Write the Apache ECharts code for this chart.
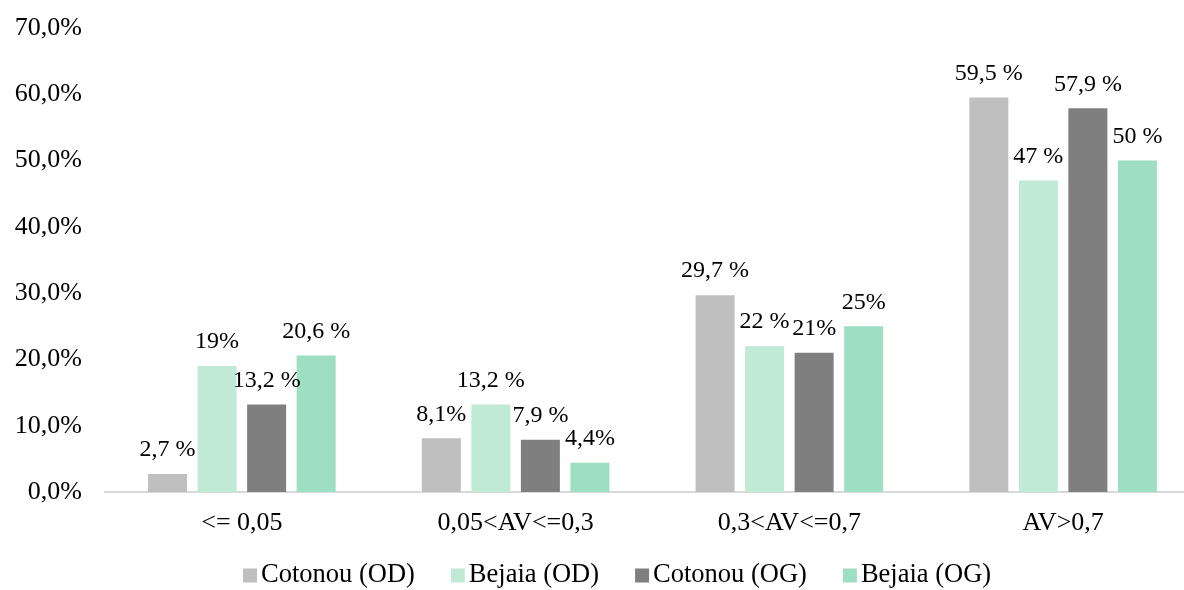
<!DOCTYPE html>
<html>
<head>
<meta charset="utf-8">
<script src="https://cdn.jsdelivr.net/npm/echarts@6/dist/echarts.min.js"></script>
<style>
html,body{margin:0;padding:0;background:#fff;}
#chart{width:1184px;height:590px;}
</style>
</head>
<body>
<div id="chart"></div>
<script>
const categories = ['<= 0,05', '0,05<AV<=0,3', '0,3<AV<=0,7', 'AV>0,7'];
const seriesNames = ['Cotonou (OD)', 'Bejaia (OD)', 'Cotonou (OG)', 'Bejaia (OG)'];
const cotonouOD = [2.7, 8.1, 29.7, 59.5];
const bejaiaOD = [19, 13.2, 22, 47];
const cotonouOG = [13.2, 7.9, 21, 57.9];
const bejaiaOG = [20.6, 4.4, 25, 50];
const labelsCotonouOD = ['2,7 %', '8,1%', '29,7 %', '59,5 %'];
const labelsBejaiaOD = ['19%', '13,2 %', '22 %', '47 %'];
const labelsCotonouOG = ['13,2 %', '7,9 %', '21%', '57,9 %'];
const labelsBejaiaOG = ['20,6 %', '4,4%', '25%', '50 %'];
const yTicks = [0, 10, 20, 30, 40, 50, 60, 70];

const colors = ['#BFBFBF', '#C0E9D6', '#7F7F7F', '#9EDEC2'];
const FONT = '"Liberation Serif", "Times New Roman", serif';
const allValues = [cotonouOD, bejaiaOD, cotonouOG, bejaiaOG];
const allLabels = [labelsCotonouOD, labelsBejaiaOD, labelsCotonouOG, labelsBejaiaOG];

const chart = echarts.init(document.getElementById('chart'), null, {renderer: 'canvas'});
chart.setOption({
  animation: false,
  backgroundColor: '#fff',
  color: colors,
  grid: {left: 105, top: 28, width: 1095, height: 464, containLabel: false, outerBoundsMode: 'none'},
  legend: {
    left: 238, top: 557, padding: 5,
    itemWidth: 14, itemHeight: 14, itemGap: 36,
    icon: 'rect',
    textStyle: {fontFamily: FONT, fontSize: 26.5, color: '#000', padding: [0,0,0,-1]},
    data: seriesNames
  },
  xAxis: {
    type: 'category',
    data: categories,
    axisLine: {show: true, lineStyle: {color: '#D9D9D9', width: 2}},
    axisTick: {show: false},
    axisLabel: {fontFamily: FONT, fontSize: 26, color: '#000', margin: 18}
  },
  yAxis: {
    type: 'value',
    min: yTicks[0], max: yTicks[yTicks.length - 1], interval: 10,
    axisLine: {show: false},
    axisTick: {show: false},
    splitLine: {show: false},
    axisLabel: {
      fontFamily: FONT, fontSize: 26, color: '#000', margin: 23,
      formatter: v => v.toFixed(1).replace('.', ',') + '%'
    }
  },
  series: seriesNames.map((name, i) => ({
    name: name,
    type: 'bar',
    barWidth: 39,
    barGap: '27%',
    data: allValues[i],
    label: {
      show: true, position: 'top', distance: 12,
      fontFamily: FONT, fontSize: 24, color: '#000',
      formatter: p => allLabels[i][p.dataIndex]
    }
  }))
});
</script>
</body>
</html>
